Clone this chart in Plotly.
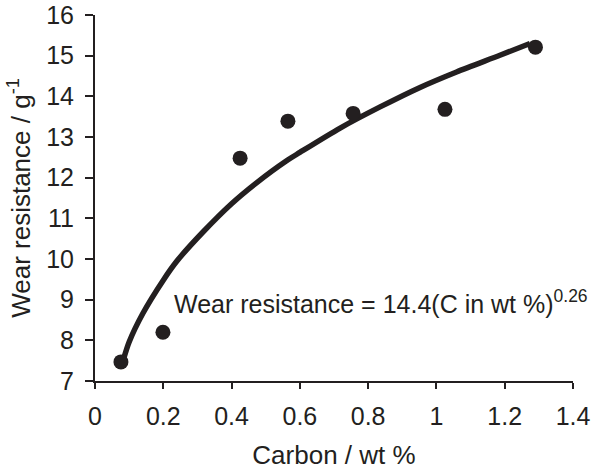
import plotly.graph_objects as go

# Measured data points
carbon = [0.076, 0.199, 0.425, 0.565, 0.756, 1.025, 1.29]
wear = [7.47, 8.2, 12.48, 13.39, 13.58, 13.68, 15.21]

# Fitted curve
fit_x = [0.083, 0.10, 0.14, 0.20, 0.24, 0.317, 0.40, 0.474, 0.56, 0.60, 0.718, 0.835, 0.952, 1.059, 1.186, 1.274]
fit_y = [7.52, 7.96, 8.66, 9.48, 9.95, 10.67, 11.36, 11.88, 12.41, 12.62, 13.22, 13.74, 14.22, 14.60, 15.01, 15.30]

x_ticks = [0, 0.2, 0.4, 0.6, 0.8, 1, 1.2, 1.4]
x_tick_text = ["0", "0.2", "0.4", "0.6", "0.8", "1", "1.2", "1.4"]
y_ticks = [7, 8, 9, 10, 11, 12, 13, 14, 15, 16]

ink = "#231f20"
font = "Liberation Sans, Arial, Helvetica, sans-serif"

fig = go.Figure()
fig.add_trace(go.Scatter(x=fit_x, y=fit_y, mode="lines",
                         line=dict(color=ink, width=5.5, shape="spline", smoothing=0.8),
                         hoverinfo="skip"))
fig.add_trace(go.Scatter(x=carbon, y=wear, mode="markers",
                         marker=dict(color=ink, size=15)))

fig.add_annotation(x=0.225, y=8.94, xref="x", yref="y",
                   text="Wear resistance = 14.4(C in wt %)<sup>0.26</sup>",
                   showarrow=False, xanchor="left", yanchor="middle",
                   font=dict(family=font, size=25, color=ink))

fig.update_layout(
    width=600, height=470,
    margin=dict(l=95, r=27, t=15, b=89),
    paper_bgcolor="white", plot_bgcolor="white",
    showlegend=False,
    font=dict(family=font, color=ink),
    xaxis=dict(range=[0, 1.4], tickvals=x_ticks, ticktext=x_tick_text,
               automargin=False,
               showgrid=False, zeroline=False, showline=True, linecolor=ink,
               linewidth=2, ticks="outside", ticklen=6, tickwidth=2, tickcolor=ink,
               ticklabelstandoff=6,
               tickfont=dict(size=25, color=ink),
               title=dict(text="Carbon / wt %", font=dict(size=26, color=ink), standoff=18)),
    yaxis=dict(range=[7, 16], tickvals=y_ticks,
               automargin=False,
               showgrid=False, zeroline=False, showline=True, linecolor=ink,
               linewidth=2, ticks="outside", ticklen=8, tickwidth=2, tickcolor=ink,
               ticklabelstandoff=6,
               tickfont=dict(size=25, color=ink),
               title=dict(text="Wear resistance / g<sup>-1</sup>", font=dict(size=26, color=ink), standoff=8)),
)

fig.write_html("out.html")
